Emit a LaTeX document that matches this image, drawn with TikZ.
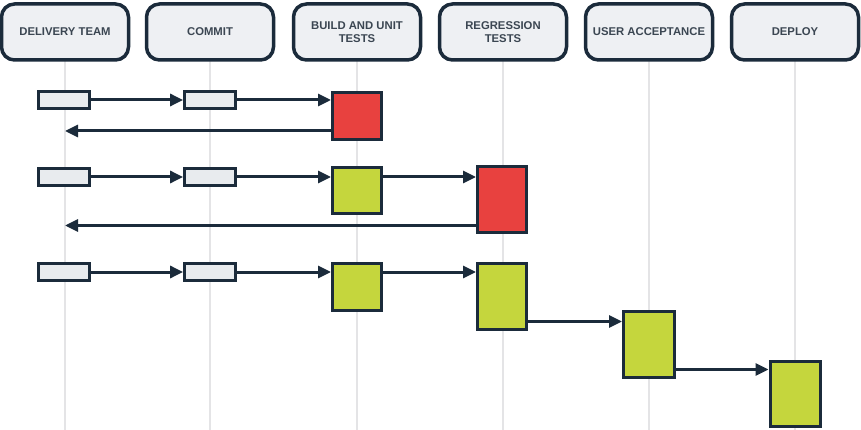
\documentclass[tikz,border=0pt]{standalone}
\usepackage{fontspec}
\setmainfont{Liberation Sans}
\usetikzlibrary{arrows.meta}
\definecolor{navy}{HTML}{1B2B3B}
\definecolor{hdrfill}{HTML}{EEF0F3}
\definecolor{hdrtext}{HTML}{3B4652}
\definecolor{smallfill}{HTML}{E8EBEE}
\definecolor{lifecol}{HTML}{E4E4E6}
\definecolor{failred}{HTML}{E8413F}
\definecolor{passgreen}{HTML}{C5D63D}
\tikzset{
  header/.style={draw=navy, line width=3.5pt, fill=hdrfill, rounded corners=13pt,
    minimum width=127pt, minimum height=56pt, align=center, text=hdrtext,
    font=\bfseries\fontsize{11.3}{13.5}\selectfont, inner sep=2pt},
  lifeline/.style={draw=lifecol, line width=2pt},
  smallbox/.style={draw=navy, line width=2.8pt, fill=smallfill, minimum width=51pt, minimum height=17pt, inner sep=0pt},
  bigbox/.style={draw=navy, line width=3pt, minimum width=49pt, inner sep=0pt},
  fail/.style={bigbox, fill=failred},
  pass/.style={bigbox, fill=passgreen},
  arr/.style={draw=navy, line width=3pt, -{Triangle[length=13pt,width=12pt]}}
}
\begin{document}
\begin{tikzpicture}[x=1pt,y=-1pt]
\useasboundingbox (0,0) rectangle (861,430);
\fill[white] (0,0) rectangle (861,430);
% lifelines (drawn first)
\foreach \x in {65,210,357,503,649,795}{
  \draw[lifeline] (\x,60) -- (\x,430);
}
% headers
\node[header] (h1) at (65,32) {DELIVERY TEAM};
\node[header] (h2) at (210,32) {COMMIT};
\node[header] (h3) at (357,32) {BUILD AND UNIT\\TESTS};
\node[header] (h4) at (503,32) {REGRESSION\\TESTS};
\node[header] (h5) at (649,32) {USER ACCEPTANCE};
\node[header] (h6) at (795,32) {DEPLOY};
% row 1
\node[smallbox] (s11) at (64,100) {};
\node[smallbox] (s12) at (210,100) {};
\node[fail, minimum height=47pt] (b1) at (357,116) {};
% row 2
\node[smallbox] (s21) at (64,177) {};
\node[smallbox] (s22) at (210,177) {};
\node[pass, minimum height=46pt] (b2) at (357,191) {};
\node[fail, minimum height=66pt] (b3) at (502,200) {};
% row 3
\node[smallbox] (s31) at (64,272) {};
\node[smallbox] (s32) at (210,272) {};
\node[pass, minimum height=47pt] (b4) at (357,287) {};
\node[pass, minimum height=66pt] (b5) at (502,296) {};
\node[pass, minimum width=51pt, minimum height=66pt] (b6) at (649,344) {};
\node[pass, minimum width=50pt, minimum height=65pt] (b7) at (795,394) {};
% arrows row 1
\draw[arr] (s11.east) -- (s12.west);
\draw[arr] (s12.east) -- (s12.east -| b1.west);
\draw[arr] ([yshift=10pt]b1.south west) -- ([yshift=10pt]b1.south west -| h1.south);
% arrows row 2
\draw[arr] (s21.east) -- (s22.west);
\draw[arr] (s22.east) -- (s22.east -| b2.west);
\draw[arr] (s22.east -| b2.east) -- (s22.east -| b3.west);
\draw[arr] ([yshift=9pt]b3.south west) -- ([yshift=9pt]b3.south west -| h1.south);
% arrows row 3
\draw[arr] (s31.east) -- (s32.west);
\draw[arr] (s32.east) -- (s32.east -| b4.west);
\draw[arr] (s32.east -| b4.east) -- (s32.east -| b5.west);
\draw[arr] ([yshift=9pt]b5.south east) -- ([yshift=9pt]b5.south east -| b6.west);
\draw[arr] ([yshift=9pt]b6.south east) -- ([yshift=9pt]b6.south east -| b7.west);
\end{tikzpicture}
\end{document}
